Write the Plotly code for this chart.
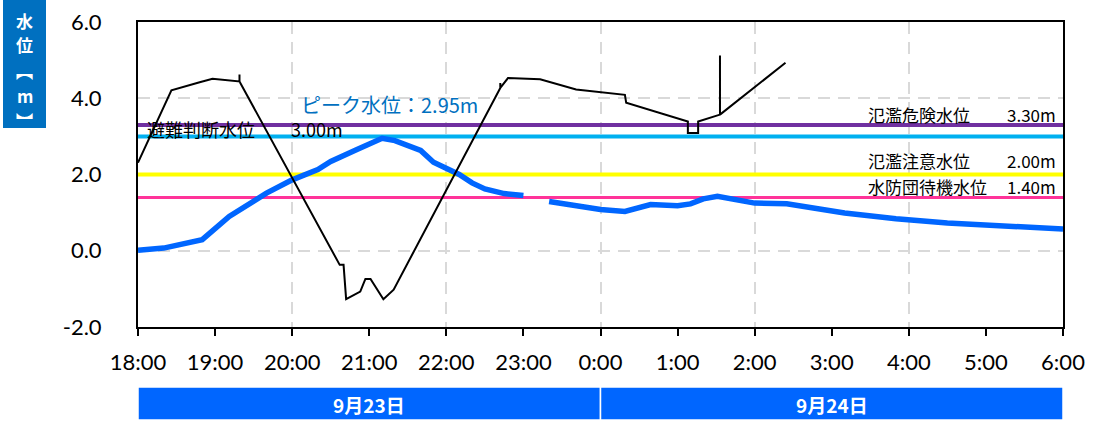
import plotly.graph_objects as go
import datetime as _dt

# ---------------- data ----------------
# Blue: water level (m); None marks the gap in the record
level_time = [
    "2024-09-23 18:00", "2024-09-23 18:20", "2024-09-23 18:50", "2024-09-23 19:11",
    "2024-09-23 19:40", "2024-09-23 20:00", "2024-09-23 20:20", "2024-09-23 20:30",
    "2024-09-23 20:50", "2024-09-23 21:10", "2024-09-23 21:20", "2024-09-23 21:40",
    "2024-09-23 21:50", "2024-09-23 22:00", "2024-09-23 22:10", "2024-09-23 22:20",
    "2024-09-23 22:30", "2024-09-23 22:45", "2024-09-23 23:00", "2024-09-23 23:10",
    "2024-09-23 23:20", "2024-09-23 23:37", "2024-09-24 00:00", "2024-09-24 00:19",
    "2024-09-24 00:39", "2024-09-24 01:00", "2024-09-24 01:10", "2024-09-24 01:20",
    "2024-09-24 01:31", "2024-09-24 02:00", "2024-09-24 02:25", "2024-09-24 03:10",
    "2024-09-24 03:50", "2024-09-24 04:30", "2024-09-24 05:10", "2024-09-24 05:35",
    "2024-09-24 06:00",
]
level_value = [
    0.01, 0.07, 0.29, 0.90,
    1.51, 1.86, 2.13, 2.34,
    2.65, 2.95, 2.89, 2.63,
    2.32, 2.17, 2.00, 1.78,
    1.62, 1.50, 1.45, None,
    1.29, 1.21, 1.08, 1.03,
    1.21, 1.18, 1.23, 1.36,
    1.43, 1.25, 1.23, 0.99,
    0.84, 0.73, 0.66, 0.60,
    0.57,
]

# Black: second gauge trace
black_time = [
    "2024-09-23 18:00", "2024-09-23 18:26", "2024-09-23 18:48", "2024-09-23 18:58",
    "2024-09-23 19:19", "2024-09-23 19:19", "2024-09-23 19:19",
    "2024-09-23 20:37", "2024-09-23 20:40", "2024-09-23 20:42", "2024-09-23 20:53",
    "2024-09-23 20:57", "2024-09-23 21:01", "2024-09-23 21:11", "2024-09-23 21:19",
    "2024-09-23 22:42", "2024-09-23 22:42", "2024-09-23 22:42",
    "2024-09-23 22:48", "2024-09-23 23:13", "2024-09-23 23:41", "2024-09-24 00:19",
    "2024-09-24 00:20", "2024-09-24 01:08", "2024-09-24 01:08", "2024-09-24 01:16",
    "2024-09-24 01:16", "2024-09-24 01:33", "2024-09-24 01:33", "2024-09-24 01:33",
    "2024-09-24 02:24",
]
black_value = [
    2.31, 4.21, 4.42, 4.51,
    4.44, 4.62, 4.44,
    -0.37, -0.37, -1.27, -1.07,
    -0.74, -0.74, -1.27, -1.02,
    4.27, 4.40, 4.27,
    4.53, 4.50, 4.23, 4.09,
    3.88, 3.39, 3.09, 3.09,
    3.39, 3.57, 5.12, 3.57,
    4.93,
]

# Reference levels
ref_names = ["氾濫危険水位", "避難判断水位", "氾濫注意水位", "水防団待機水位"]
ref_values = [3.30, 3.00, 2.00, 1.40]
ref_colors = ["#7030A0", "#00B0F0", "#FFFF00", "#FF3399"]
ref_widths = [4, 4, 4, 3]

# Date bands
date_labels = ["9月23日", "9月24日"]
date_starts = ["2024-09-23 18:00", "2024-09-24 00:00"]
date_ends = ["2024-09-24 00:00", "2024-09-24 06:00"]

x_start, x_end = "2024-09-23 18:00", "2024-09-24 06:00"
y_ticks = [-2.0, 0.0, 2.0, 4.0, 6.0]
y_title_chars = ["水", "位", "︻", "m", "︼"]

# ---------------- figure ----------------
W, H = 1095, 426
ML, MR, MT, MB = 138, 32, 22, 99
PW, PH = W - ML - MR, H - MT - MB

def px_x(x):
    return (x - ML) / PW

def px_y(y):
    return (H - MB - y) / PH

fig = go.Figure()

for v, c, w in zip(ref_values, ref_colors, ref_widths):
    fig.add_trace(go.Scatter(x=[x_start, x_end], y=[v, v], mode="lines",
                             line=dict(color=c, width=w), hoverinfo="skip"))

fig.add_trace(go.Scatter(x=level_time, y=level_value, mode="lines",
                         line=dict(color="#0066FF", width=5.5), connectgaps=False))
fig.add_trace(go.Scatter(x=black_time, y=black_value, mode="lines",
                         line=dict(color="black", width=2)))
# carrier for the 2-hour grid axis
fig.add_trace(go.Scatter(x=[x_start, x_end], y=[None, None], xaxis="x2",
                         mode="lines", hoverinfo="skip"))

JP = "Noto Sans CJK JP"
TICKF = "Lato"

annotations = []
# left reference label (避難判断水位)
i = ref_names.index("避難判断水位")
annotations.append(dict(x=px_x(145), xref="paper", y=ref_values[i], yref="y",
                        text=f"{ref_names[i]}　　{ref_values[i]:.2f}m",
                        xanchor="left", yanchor="middle", yshift=7,
                        showarrow=False, font=dict(family=JP, size=18, color="black")))
# right reference labels
for name, ys in zip(["氾濫危険水位", "氾濫注意水位", "水防団待機水位"], [10, 14, 11]):
    j = ref_names.index(name)
    annotations.append(dict(x=px_x(866), xref="paper", y=ref_values[j], yref="y",
                            text=ref_names[j], xanchor="left", yanchor="middle", yshift=ys,
                            showarrow=False, font=dict(family=JP, size=17, color="black")))
    annotations.append(dict(x=px_x(1058), xref="paper", y=ref_values[j], yref="y",
                            text=f"{ref_values[j]:.2f}m", xanchor="right", yanchor="middle", yshift=ys,
                            showarrow=False, font=dict(family=JP, size=17, color="black")))

# peak label
vals = [v for v in level_value if v is not None]
peak = max(vals)
peak_t = level_time[level_value.index(peak)]
annotations.append(dict(x=peak_t, y=peak, xref="x", yref="y",
                        text=f"ピーク水位：{peak:.2f}m", xanchor="center", yanchor="middle",
                        xshift=7, yshift=34, showarrow=False,
                        font=dict(family=JP, size=20, color="#0070C0")))

# y-axis title (vertical, one character per line)
for ch, ypx in zip(y_title_chars, [20, 45, 70, 95, 120]):
    annotations.append(dict(x=px_x(24.5), y=px_y(ypx), xref="paper", yref="paper",
                            text=f"<b>{ch}</b>", showarrow=False, xanchor="center", yanchor="middle",
                            font=dict(family=JP, size=17, color="white")))

shapes = [dict(type="rect", xref="paper", yref="paper",
               x0=px_x(3), x1=px_x(46), y0=px_y(128), y1=px_y(0),
               fillcolor="#0070C0", line=dict(width=0), layer="above")]

for lab, s, e in zip(date_labels, date_starts, date_ends):
    shapes.append(dict(type="rect", xref="x", yref="paper", x0=s, x1=e,
                       y0=px_y(420), y1=px_y(387), fillcolor="#0066FF",
                       line=dict(color="white", width=1.5), layer="above"))
    ds = _dt.datetime.fromisoformat(s)
    de = _dt.datetime.fromisoformat(e)
    mid = ds + (de - ds) / 2
    annotations.append(dict(x=mid.strftime("%Y-%m-%d %H:%M"), xref="x", y=px_y(404), yref="paper",
                            text=f"<b>{lab}</b>", showarrow=False, xanchor="center", yanchor="middle",
                            font=dict(family=JP, size=19, color="white")))

fig.update_layout(
    template="none",
    width=W, height=H,
    margin=dict(l=ML, r=MR, t=MT, b=MB, pad=0, autoexpand=False),
    paper_bgcolor="white", plot_bgcolor="white",
    showlegend=False,
    xaxis=dict(type="date", range=[x_start, x_end], tick0=x_start, dtick=3600000,
               tickformat="%-H:%M", ticks="outside", ticklen=7, tickwidth=2, tickcolor="black",
               showline=True, linecolor="black", linewidth=2, mirror=True, automargin=False,
               showgrid=False, zeroline=False, ticklabelstandoff=8,
               tickfont=dict(family=TICKF, size=22, color="black")),
    xaxis2=dict(type="date", range=[x_start, x_end], overlaying="x", side="bottom",
                tick0=x_start, dtick=7200000, showticklabels=False, ticks="", automargin=False,
                showgrid=True, gridcolor="#D9D9D9", gridwidth=2, griddash="12px,8px",
                showline=False, zeroline=False),
    yaxis=dict(range=[-2, 6], tickvals=y_ticks, ticktext=[f"{v:.1f}" for v in y_ticks],
               showline=True, linecolor="black", linewidth=2, mirror=True, automargin=False,
               showgrid=True, gridcolor="#D9D9D9", gridwidth=2, griddash="12px,8px",
               zeroline=False, ticks="", ticklabelstandoff=30,
               tickfont=dict(family=TICKF, size=22, color="black")),
    shapes=shapes,
    annotations=annotations,
)

fig.write_html("out.html", config={"displayModeBar": False},
               post_script="document.body.style.margin='0px';document.body.style.padding='0px';")
